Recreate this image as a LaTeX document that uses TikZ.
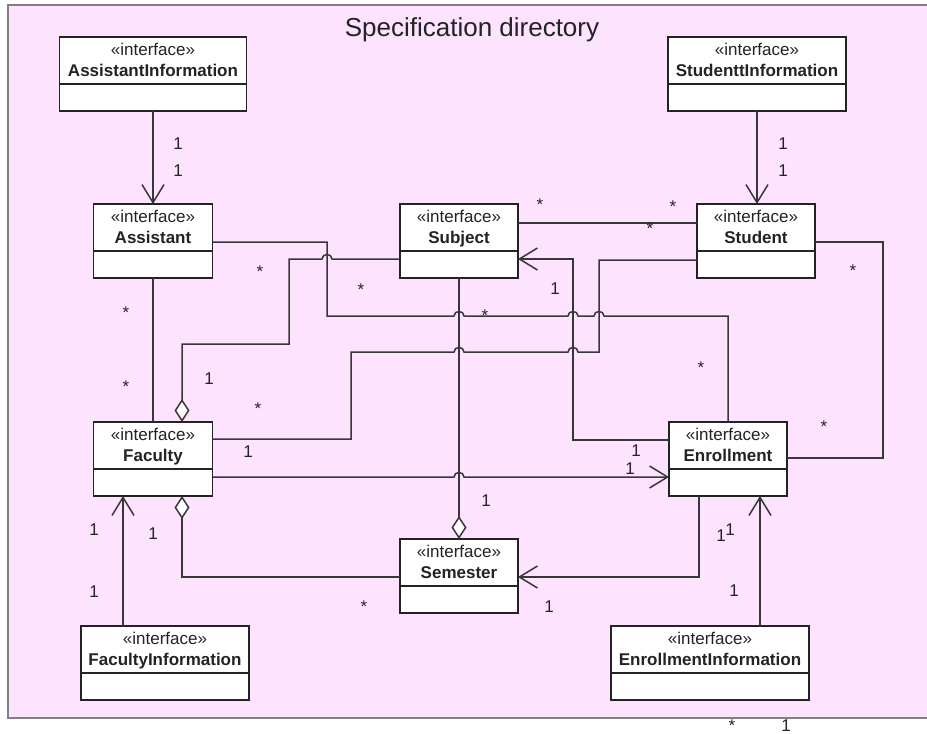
\documentclass[tikz,border=0pt]{standalone}
\usepackage{fontspec}
\setmainfont{Liberation Sans}
\usetikzlibrary{arrows.meta}

\definecolor{panel}{RGB}{253,227,253}
\definecolor{panelrim}{RGB}{128,128,128}
\definecolor{ink}{RGB}{35,35,35}
\definecolor{wire}{RGB}{55,55,55}

% a small arch where a horizontal wire jumps over a vertical one
\newcommand\wirehop[2]{-- ({#1-5},#2) .. controls ({#1-5},{#2-6}) and ({#1+5},{#2-6}) .. ({#1+5},#2)}

% interface box: name, centre x, top y, width, class name
\newcommand\iface[5]{%
  \node[ubox, minimum width=#4pt] (#1) at (#2,#3) {};
  \node[stereo] (#1-st) at ([yshift=-18pt]#1.north) {«interface»};
  \node[uname] (#1-nm) at ([yshift=-39pt]#1.north) {#5};
}

\begin{document}
\begin{tikzpicture}[x=1pt,y=-1pt,
  ubox/.style={draw=ink, fill=white, line width=1.6pt, minimum height=74pt,
    inner sep=0pt, outer sep=0pt, anchor=north,
    path picture={\draw[ink, line width=1.6pt]
      ([yshift=-47pt]path picture bounding box.north west) --
      ([yshift=-47pt]path picture bounding box.north east);}},
  stereo/.style={text=ink, inner sep=0pt, anchor=base, font=\fontsize{17}{20}\selectfont},
  uname/.style={text=ink, inner sep=0pt, anchor=base, font=\fontsize{17}{20}\selectfont\bfseries},
  mult/.style={text=ink, inner sep=0pt, anchor=base, font=\fontsize{17}{20}\selectfont},
  title/.style={text=ink, inner sep=0pt, anchor=base, font=\fontsize{26}{30}\selectfont},
  wire/.style={draw=wire, line width=1.5pt},
  openarrow/.style={-{Straight Barb[length=18pt,width=22pt]}},
  aggstart/.style={{Diamond[length=23pt,width=15pt,fill=white]}-},
  aggend/.style={-{Diamond[length=23pt,width=15pt,fill=white]}}
]
\useasboundingbox (0,0) rectangle (927,734);
\fill[white] (0,0) rectangle (927,734);
\draw[panelrim, line width=2pt, fill=panel] (8,5) rectangle (940,718);

\node[title] (ttl) at (472,36) {Specification directory};

% classes
\iface{ainf}{153}{37}{187}{AssistantInformation}
\iface{sinf}{757}{37}{178}{StudenttInformation}
\iface{ass}{153}{204}{119}{Assistant}
\iface{sub}{459}{204}{118}{Subject}
\iface{stu}{756}{204}{118}{Student}
\iface{fac}{153}{422}{119}{Faculty}
\iface{enr}{728}{422}{118}{Enrollment}
\iface{sem}{459}{539}{118}{Semester}
\iface{finf}{165}{626}{168}{FacultyInformation}
\iface{einf}{710}{626}{198}{EnrollmentInformation}

% information interfaces
\draw[wire, openarrow] (ainf.south) -- (ainf.south |- ass.north);
\draw[wire, openarrow] (sinf.south) -- (sinf.south |- stu.north);
\draw[wire, openarrow] (123,0 |- finf.north) -- (123,0 |- fac.south);
\draw[wire, openarrow] (760,0 |- einf.north) -- (760,0 |- enr.south);

% associations
\draw[wire] (ass.south) -- (fac.north);
\draw[wire, aggstart] (182,0 |- fac.north) -- (182,344) -- (289,344) -- (289,259)
  \wirehop{327}{259} -- (sub.west |- 0,259);
\draw[wire] (ass.east |- 0,242) -- (327,242) -- (327,316)
  \wirehop{459}{316} \wirehop{573}{316} \wirehop{599}{316} -- (728,316) -- (enr.north);
\draw[wire] (fac.east |- 0,439) -- (351,439) -- (351,352)
  \wirehop{459}{352} \wirehop{573}{352} -- (599,352) -- (599,260) -- (stu.west |- 0,260);
\draw[wire] (sub.east |- 0,223) -- (stu.west |- 0,223);
\draw[wire, openarrow] (enr.west |- 0,440) -- (573,440) -- (573,259) -- (sub.east |- 0,259);
\draw[wire] (stu.east |- 0,242) -- (883,242) -- (883,458) -- (enr.east |- 0,458);
\draw[wire, openarrow] (fac.east |- 0,477) \wirehop{459}{477} -- (enr.west |- 0,477);
\draw[wire, aggstart] (sem.north) -- (sub.south);
\draw[wire, aggend] (sem.west |- 0,577) -- (182,577) -- (182,0 |- fac.south);
\draw[wire, openarrow] (699,0 |- enr.south) -- (699,577) -- (sem.east |- 0,577);

% multiplicities
\foreach \x/\y [count=\i] in {178/149, 178/176, 783/149, 783/176, 209/384, 248/457,
    555/294, 636/456, 630/474, 486/506, 153/539, 549/612, 721/541, 730/535,
    94/535, 94/597, 734/596, 786/731}
  \node[mult] (one\i) at (\x,\y) {1};
\foreach \x/\y [count=\i] in {126/318, 126/392, 260/277, 361/295, 485/321, 701/373,
    258/414, 540/210, 673/212, 650/234, 853/276, 824/432, 364/612, 732/731}
  \node[mult] (many\i) at (\x,\y) {*};
\end{tikzpicture}
\end{document}
